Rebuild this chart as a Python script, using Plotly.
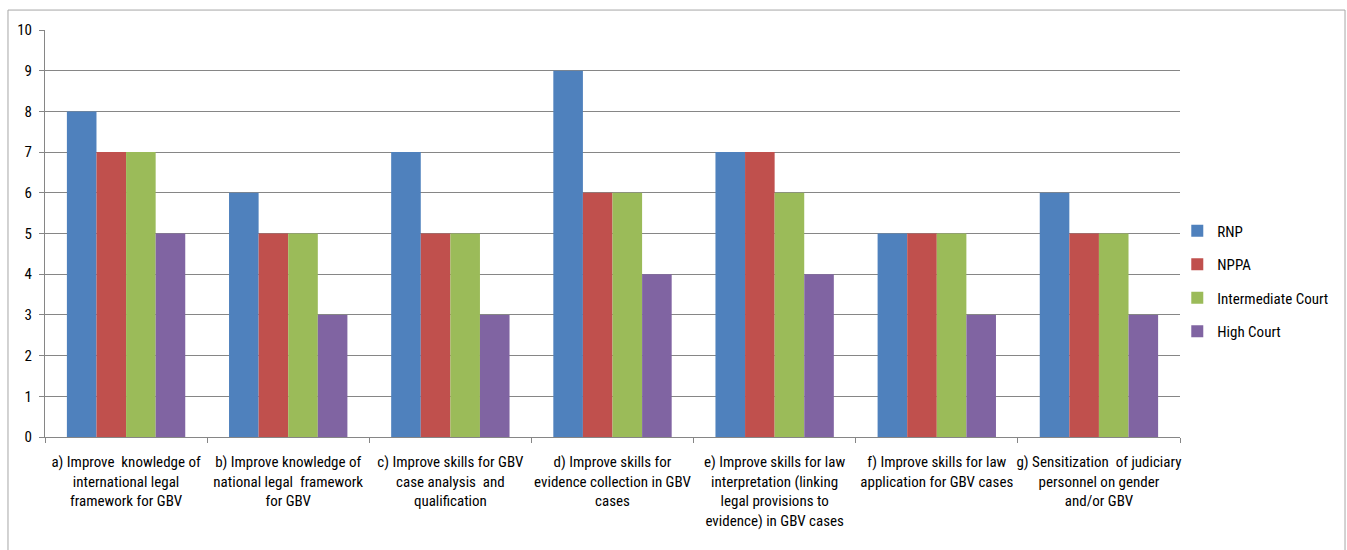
import plotly.graph_objects as go

categories = [
    "a) Improve  knowledge of<br>international legal<br>framework for GBV",
    "b) Improve knowledge of<br>national legal  framework<br>for GBV",
    "c) Improve skills for GBV<br>case analysis  and<br>qualification",
    "d) Improve skills for<br>evidence collection in GBV<br>cases",
    "e) Improve skills for law<br>interpretation (linking<br>legal provisions to<br>evidence) in GBV cases",
    "f) Improve skills for law<br>application for GBV cases",
    "g) Sensitization  of judiciary<br>personnel on gender<br>and/or GBV",
]
series_names = ["RNP", "NPPA", "Intermediate Court", "High Court"]
rnp = [8, 6, 7, 9, 7, 5, 6]
nppa = [7, 5, 5, 6, 7, 5, 5]
intermediate = [7, 5, 5, 6, 6, 5, 5]
high_court = [5, 3, 3, 4, 4, 3, 3]
y_ticks = list(range(0, 11))

colors = ["#4F81BD", "#C0504D", "#9BBB59", "#8064A2"]
font_family = "Liberation Sans Narrow, Roboto Condensed, Arial Narrow, Liberation Sans, sans-serif"

fig = go.Figure()
for name, vals, col in zip(series_names, [rnp, nppa, intermediate, high_court], colors):
    fig.add_trace(go.Bar(
        name=name, x=categories, y=vals,
        marker=dict(color=col, line=dict(width=0)),
        legendgroup=name,
    ))

fig.update_layout(
    width=1347, height=550,
    margin=dict(l=45, r=167, t=30, b=113, autoexpand=False),
    paper_bgcolor="white", plot_bgcolor="white",
    barmode="group", bargap=0.27, bargroupgap=0,
    font=dict(family=font_family, size=15, color="#000000"),
    showlegend=True,
    legend=dict(xref="container", yref="container", x=0.874, y=0.489,
                xanchor="left", yanchor="middle",
                font=dict(size=15), tracegroupgap=11,
                bgcolor="rgba(0,0,0,0)"),
    xaxis=dict(
        type="category", tickson="boundaries", ticks="outside", ticklen=5,
        tickcolor="#868686", showline=True, linecolor="#868686", linewidth=1,
        showgrid=False, tickangle=0, ticklabelstandoff=11,
        tickfont=dict(size=15),
    ),
    yaxis=dict(
        range=[0, 10], tickvals=y_ticks, ticks="outside", ticklen=5,
        tickcolor="#868686", showline=True, linecolor="#868686", linewidth=1,
        showgrid=True, gridcolor="#868686", gridwidth=1, zeroline=False,
        tickfont=dict(size=15), ticklabelstandoff=4,
    ),
    shapes=[dict(type="rect", xref="paper", yref="paper",
                 x0=-0.0326, x1=1.1454, y0=-0.31, y1=1.049,
                 line=dict(color="#A6A6A6", width=1), fillcolor="rgba(0,0,0,0)",
                 layer="below")],
)

fig.write_html("out.html")
